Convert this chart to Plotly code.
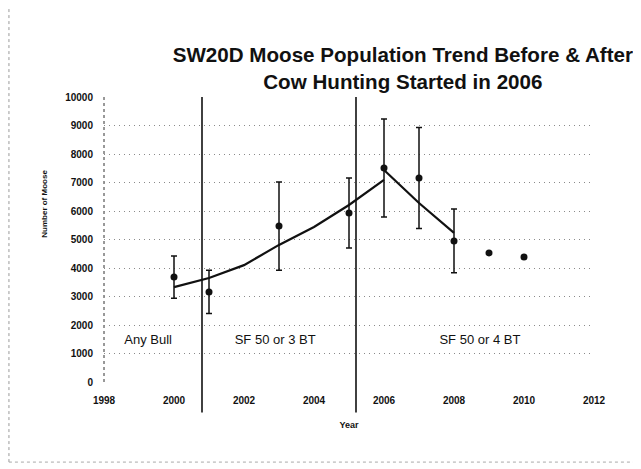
import plotly.graph_objects as go

# ---- data ----
survey_years = [2000, 2001, 2003, 2005, 2006, 2007, 2008, 2009, 2010]
moose_estimates = [3680, 3160, 5470, 5930, 7510, 7160, 4950, 4530, 4390]
error_plus_minus = [740, 760, 1550, 1230, 1720, 1770, 1120, None, None]

trend_before_years = [2000, 2001, 2002, 2003, 2004, 2005, 2006]
trend_before_values = [3330, 3650, 4100, 4810, 5440, 6210, 7090]

trend_after_years = [2006, 2007, 2008]
trend_after_values = [7440, 6280, 5230]

regime_breaks = [2000.8, 2005.2]
regime_labels = ["Any Bull", "SF 50 or 3 BT", "SF 50 or 4 BT"]
regime_label_x = [1999.26, 2002.89, 2008.74]
regime_label_y = [1440, 1440, 1440]

x_ticks = [1998, 2000, 2002, 2004, 2006, 2008, 2010, 2012]
y_ticks = [0, 1000, 2000, 3000, 4000, 5000, 6000, 7000, 8000, 9000, 10000]

FONT = "Liberation Sans, Arial, sans-serif"

fig = go.Figure()

# regime break lines
for xb in regime_breaks:
    fig.add_shape(type="line", xref="x", yref="paper", x0=xb, x1=xb,
                  y0=-0.107, y1=1.0, line=dict(color="#111111", width=1.6),
                  layer="above")

# dotted y-axis line
fig.add_shape(type="line", xref="paper", yref="paper", x0=0, x1=0, y0=0, y1=1,
              line=dict(color="#333333", width=1, dash="dot"), layer="below")

# scan-like page border
fig.add_shape(type="line", xref="paper", yref="paper", x0=-0.194, x1=-0.194,
              y0=-0.281, y1=1.31, line=dict(color="#999999", width=1, dash="dot"))
fig.add_shape(type="line", xref="paper", yref="paper", x0=-0.194, x1=1.1,
              y0=-0.281, y1=-0.281, line=dict(color="#aaaaaa", width=1, dash="dot"))

fig.add_trace(go.Scatter(
    x=trend_before_years, y=trend_before_values, mode="lines",
    line=dict(color="#111111", width=2.2), showlegend=False, hoverinfo="skip"))
fig.add_trace(go.Scatter(
    x=trend_after_years, y=trend_after_values, mode="lines",
    line=dict(color="#111111", width=2.2), showlegend=False, hoverinfo="skip"))

fig.add_trace(go.Scatter(
    x=survey_years, y=moose_estimates, mode="markers",
    marker=dict(color="#111111", size=7, symbol="circle"),
    error_y=dict(type="data", array=error_plus_minus, visible=True,
                 color="#111111", thickness=1.5, width=3),
    showlegend=False))

fig.add_trace(go.Scatter(
    x=regime_label_x, y=regime_label_y, mode="text", text=regime_labels,
    textfont=dict(family=FONT, size=13, color="#111111"),
    showlegend=False, hoverinfo="skip"))

# y axis title
fig.add_annotation(text="<b>Number of Moose</b>", xref="paper", yref="paper",
                   x=-0.134, y=0.625, textangle=-90, showarrow=False,
                   font=dict(family=FONT, size=8, color="#111111"))

fig.update_layout(
    width=641, height=469,
    margin=dict(l=96, r=55, t=89, b=95),
    paper_bgcolor="white", plot_bgcolor="white",
    font=dict(family=FONT, color="#111111"),
    title=dict(text="<b>SW20D Moose Population Trend Before & After<br>Cow Hunting Started in 2006</b>",
               xref="container", yref="container", x=0.616, xanchor="center",
               y=0.884, yanchor="middle",
               font=dict(family=FONT, size=20.6, color="#111111")),
    xaxis=dict(range=[1998, 2012], tickvals=x_ticks, ticktext=[str(v) for v in x_ticks],
               showgrid=False, zeroline=False, showline=False, ticks="",
               ticklabelstandoff=11,
               tickfont=dict(family=FONT, size=10, color="#111111", weight="bold"),
               title=dict(text="<b>Year</b>", font=dict(family=FONT, size=9, color="#111111"),
                          standoff=16)),
    yaxis=dict(range=[0, 10000], tickvals=y_ticks, ticktext=[str(v) for v in y_ticks],
               showgrid=True, gridcolor="#8a8a8a", gridwidth=1, griddash="1px,4px",
               zeroline=False, showline=False, ticks="",
               ticklabelstandoff=10,
               tickfont=dict(family=FONT, size=10, color="#111111", weight="bold")),
)

fig.write_html("out.html")
